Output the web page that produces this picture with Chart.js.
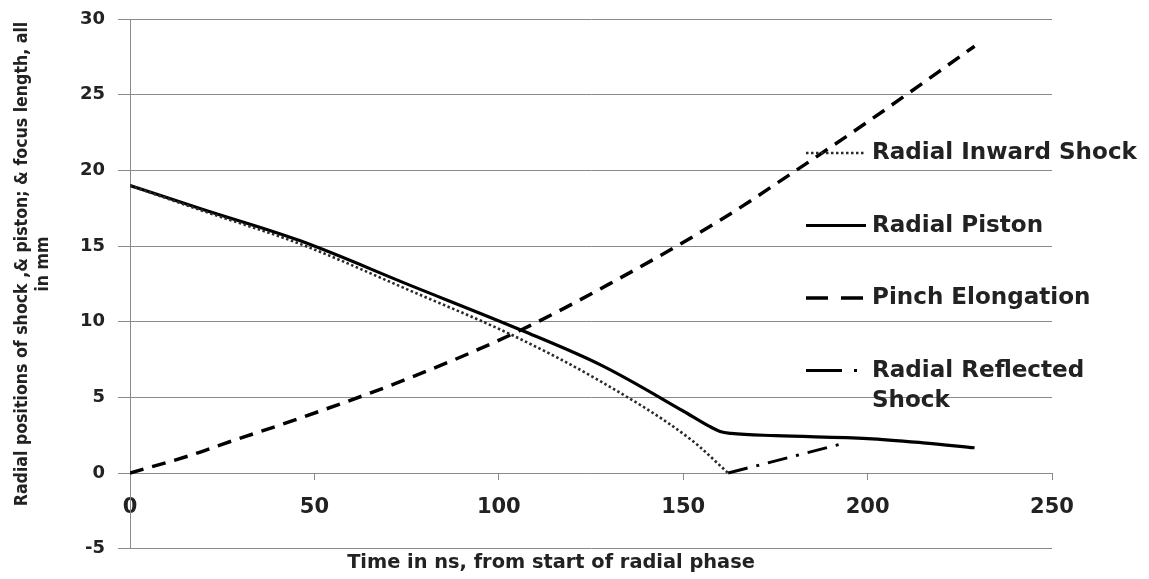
<!DOCTYPE html>
<html><head><meta charset="utf-8">
<script src="https://cdn.jsdelivr.net/npm/chart.js@4/dist/chart.umd.min.js"></script>
<style>html,body{margin:0;padding:0;background:#fff;}#wrap{position:relative;width:1149px;height:579px;}</style>
</head><body><div id="wrap"><canvas id="c" width="1149" height="579"></canvas></div>
<script>
// ---- data ----
const seriesLabels = ['Radial Inward Shock', 'Radial Piston', 'Pinch Elongation', 'Radial Reflected Shock'];
const shockTime = [0, 20, 46, 76, 104, 128, 152, 162.2];
const shockPos  = [19.0, 17.3, 15.15, 12.05, 9.07, 6.0, 2.23, 0];
const pistonTime = [0, 20, 46, 76, 106, 128, 150, 157, 160, 163, 175, 200, 215, 229];
const pistonPos  = [19.0, 17.4, 15.36, 12.4, 9.45, 7.1, 4.1, 3.1, 2.75, 2.62, 2.47, 2.28, 2.0, 1.67];
const pinchTime = [0, 17, 25, 46, 76, 106, 130, 160, 180, 200, 229];
const pinchLen  = [0, 1.22, 1.9, 3.62, 6.3, 9.45, 12.5, 16.7, 19.9, 23.2, 28.2];
const reflTime = [162.2, 192.5];
const reflPos  = [0, 1.9];
const xTicks = [0, 50, 100, 150, 200, 250];
const yTicks = [-5, 0, 5, 10, 15, 20, 25, 30];
const xTitle = 'Time in ns, from start of radial phase';
const yTitle = ['Radial positions of shock ,& piston; & focus length, all', 'in mm'];

// ---- helpers ----
const mctx = document.createElement('canvas').getContext('2d');
function fitSize(text, family, weight, target) {
  mctx.font = weight + ' 100px ' + family;
  return 100 * target / mctx.measureText(text).width;
}
const toXY = (xs, ys) => xs.map((x, i) => ({x: x, y: ys[i]}));
const TXT = '#222';
const GRID = '#8a8a8a';
const legendFamily = '"DejaVu Sans", sans-serif';
const legendSize = fitSize(seriesLabels[0], legendFamily, 'bold', 265);
const xTitleSize = fitSize(xTitle, '"DejaVu Sans", sans-serif', 'bold', 408);
const yTitleFamily = '"DejaVu Sans Condensed", "DejaVu Sans", sans-serif';
const yTitleSize = fitSize(yTitle[0], yTitleFamily, 'bold', 485);

const legendSamples = [
  {dash: [2.5, 2.5]}, {dash: []}, {dash: [22, 13]}, {dash: [36, 12, 3, 12]}
];

const legendPlugin = {
  id: 'sideLegend',
  afterDraw(chart) {
    const ctx = chart.ctx;
    ctx.save();
    const x0 = 806, x1 = 866, tx = 872, y0 = 153, step = 72.5, lh = 30;
    ctx.font = 'bold ' + legendSize + 'px ' + legendFamily;
    ctx.textBaseline = 'middle';
    ctx.textAlign = 'left';
    chart.data.datasets.forEach((ds, i) => {
      const y = y0 + i * step;
      ctx.beginPath();
      ctx.setLineDash(legendSamples[i].dash);
      ctx.strokeStyle = ds.borderColor;
      ctx.lineWidth = ds.borderWidth;
      ctx.moveTo(x0, y); ctx.lineTo(x1, y); ctx.stroke();
      ctx.setLineDash([]);
      ctx.fillStyle = TXT;
      const maxW = chart.width - tx;
      const words = ds.label.split(' ');
      let line = '', ly = y;
      words.forEach(w => {
        const test = line ? line + ' ' + w : w;
        if (ctx.measureText(test).width > maxW && line) {
          ctx.fillText(line, tx, ly); line = w; ly += lh;
        } else line = test;
      });
      ctx.fillText(line, tx, ly);
    });
    // y-axis title (two lines, rotated)
    ctx.font = 'bold ' + yTitleSize + 'px ' + yTitleFamily;
    ctx.textAlign = 'center';
    ctx.translate(22, 264);
    ctx.rotate(-Math.PI / 2);
    ctx.fillText(yTitle[0], 0, 0);
    ctx.fillText(yTitle[1], 0, 21);
    ctx.restore();
  }
};

new Chart(document.getElementById('c'), {
  type: 'line',
  data: {
    datasets: [
      {label: seriesLabels[0], data: toXY(shockTime, shockPos), borderColor: '#2a2a2a', borderWidth: 2.6, borderDash: [2.5, 2.5]},
      {label: seriesLabels[1], data: toXY(pistonTime, pistonPos), borderColor: '#000', borderWidth: 3.2},
      {label: seriesLabels[2], data: toXY(pinchTime, pinchLen), borderColor: '#000', borderWidth: 3.5, borderDash: [14, 9]},
      {label: seriesLabels[3], data: toXY(reflTime, reflPos), borderColor: '#000', borderWidth: 3, borderDash: [20, 9, 3, 9]}
    ]
  },
  options: {
    responsive: false,
    animation: false,
    devicePixelRatio: 1,
    elements: {point: {radius: 0}, line: {tension: 0, cubicInterpolationMode: 'monotone', borderCapStyle: 'butt'}},
    layout: {padding: {left: 50, right: 97, top: 19, bottom: 0}},
    plugins: {
      legend: {display: false},
      tooltip: {enabled: false},
      title: {display: true, position: 'bottom', text: xTitle, color: TXT,
        font: {family: '"DejaVu Sans", sans-serif', weight: 'bold', size: xTitleSize}, padding: {top: 3, bottom: 4}}
    },
    scales: {
      x: {
        type: 'linear', min: 0, max: 250, position: {y: 0},
        afterBuildTicks: s => { s.ticks = xTicks.map(v => ({value: v})); },
        grid: {drawOnChartArea: false, drawTicks: true, tickLength: 6, color: GRID},
        border: {display: true, color: GRID, width: 1},
        ticks: {font: {family: '"DejaVu Sans", sans-serif', weight: 'bold', size: 21}, color: TXT, padding: 16, maxRotation: 0, autoSkip: false}
      },
      y: {
        type: 'linear', min: -5, max: 30,
        afterBuildTicks: s => { s.ticks = yTicks.map(v => ({value: v})); },
        afterFit: s => { s.width = 80; s.paddingTop = 0; s.paddingBottom = 0; },
        grid: {color: GRID, tickLength: 12, lineWidth: 1},
        border: {display: true, color: GRID, width: 1},
        ticks: {font: {family: '"DejaVu Sans", sans-serif', weight: 'bold', size: 18}, color: TXT, padding: 13}
      }
    }
  },
  plugins: [legendPlugin]
});
</script></body></html>
